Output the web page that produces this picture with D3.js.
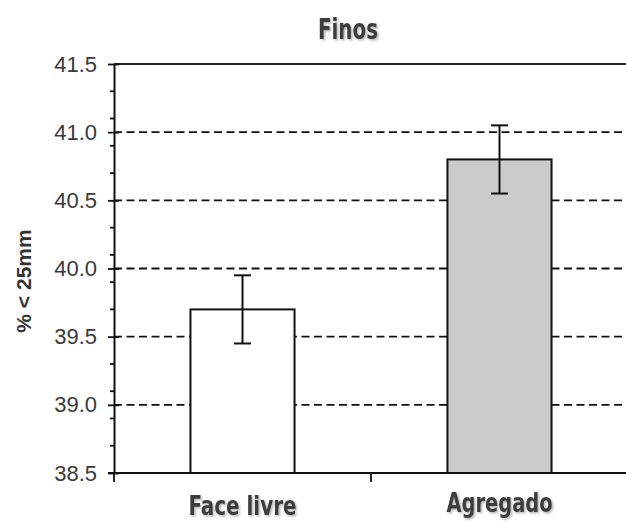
<!DOCTYPE html>
<html>
<head>
<meta charset="utf-8">
<script src="https://cdn.jsdelivr.net/npm/d3@7"></script>
<style>
  html, body { margin: 0; padding: 0; background: #fff; }
  svg { display: block; }
</style>
</head>
<body>
<script>
// Mean fines fraction (% passing 25 mm) by sampling location, with error bars
const categories = ["Face livre", "Agregado"];
const means = [39.7, 40.8];
const errors = [0.25, 0.25];
const fills = ["#ffffff", "#cbcbcb"];
const yTicks = [38.5, 39.0, 39.5, 40.0, 40.5, 41.0, 41.5];
const yMinorTicks = [38.7, 38.9, 39.1, 39.3, 39.7, 39.9, 40.1, 40.3, 40.7, 40.9, 41.1, 41.3];
const gridValues = [39.0, 39.5, 40.0, 40.5, 41.0];
const titleText = "Finos";
const yTitle = "% < 25mm";

const W = 626, H = 523;
const plot = { left: 114, right: 628, top: 64, bottom: 473 };

const svg = d3.select("body").append("svg").attr("width", W).attr("height", H);

const defs = svg.append("defs");
const shadow = defs.append("filter").attr("id", "soft").attr("x", "-10%").attr("y", "-20%")
  .attr("width", "130%").attr("height", "150%");
shadow.append("feDropShadow").attr("dx", 1.5).attr("dy", 1.5).attr("stdDeviation", 1)
  .attr("flood-color", "#000").attr("flood-opacity", 0.3);

const x = d3.scaleBand().domain(categories).range([plot.left, plot.right]).paddingInner(0).paddingOuter(0);
const y = d3.scaleLinear().domain([38.5, 41.5]).range([plot.bottom, plot.top]);
const barW = x.bandwidth() * 0.405;

// dashed gridlines
svg.append("g").selectAll("line").data(gridValues).join("line")
  .attr("x1", plot.left).attr("x2", W + 10)
  .attr("y1", d => y(d)).attr("y2", d => y(d))
  .attr("stroke", "#111").attr("stroke-width", 1.8).attr("stroke-dasharray", "8,4.5");

// top border of the plot area
svg.append("line").attr("x1", plot.left).attr("x2", W + 10)
  .attr("y1", y(41.5)).attr("y2", y(41.5)).attr("stroke", "#222").attr("stroke-width", 1.8);

// bars
svg.append("g").selectAll("rect").data(categories).join("rect")
  .attr("x", d => x(d) + (x.bandwidth() - barW) / 2)
  .attr("width", barW)
  .attr("y", (d, i) => y(means[i]))
  .attr("height", (d, i) => y(38.5) - y(means[i]))
  .attr("fill", (d, i) => fills[i])
  .attr("stroke", "#111").attr("stroke-width", 2);

// error bars
const eb = svg.append("g").attr("stroke", "#111").attr("stroke-width", 2);
categories.forEach((c, i) => {
  const cx = x(c) + x.bandwidth() / 2;
  const hi = y(means[i] + errors[i]), lo = y(means[i] - errors[i]);
  eb.append("line").attr("x1", cx).attr("x2", cx).attr("y1", hi).attr("y2", lo);
  eb.append("line").attr("x1", cx - 8.5).attr("x2", cx + 8.5).attr("y1", hi).attr("y2", hi);
  eb.append("line").attr("x1", cx - 8.5).attr("x2", cx + 8.5).attr("y1", lo).attr("y2", lo);
});

// y axis: major ticks cross the axis, minor ticks outside
const yAxis = svg.append("g").attr("transform", `translate(${plot.left},0)`);
yAxis.call(d3.axisLeft(y).tickValues(yTicks).tickSize(0).tickPadding(17).tickFormat(d3.format(".1f")));
yAxis.select(".domain").attr("stroke", "#111").attr("stroke-width", 2);
yAxis.selectAll(".tick text")
  .attr("font-family", "Arial, 'Liberation Sans', sans-serif")
  .attr("font-size", 22).attr("fill", "#3a3a3a");
yAxis.selectAll(".tick").append("line")
  .attr("x1", -6).attr("x2", 5).attr("stroke", "#111").attr("stroke-width", 1.8);
yAxis.append("g").selectAll("line").data(yMinorTicks).join("line")
  .attr("x1", -4).attr("x2", 0)
  .attr("y1", d => y(d)).attr("y2", d => y(d))
  .attr("stroke", "#111").attr("stroke-width", 1.8);

// x axis
const xAxis = svg.append("g").attr("transform", `translate(0,${plot.bottom})`);
xAxis.append("line").attr("x1", plot.left - 6).attr("x2", W + 10)
  .attr("stroke", "#111").attr("stroke-width", 2);
const boundaries = [plot.left, x(categories[1])];
xAxis.selectAll("line.tk").data(boundaries).join("line").attr("class", "tk")
  .attr("x1", d => d).attr("x2", d => d).attr("y1", 0).attr("y2", 9)
  .attr("stroke", "#111").attr("stroke-width", 1.8);

const condensed = "'Liberation Sans Narrow', 'Arial Narrow', 'DejaVu Sans Condensed', sans-serif";
const labelWidths = [108, 106];
xAxis.selectAll("text").data(categories).join("text")
  .attr("x", d => x(d) + x.bandwidth() / 2)
  .attr("y", (d, i) => i === 0 ? 42 : 39)
  .attr("text-anchor", "middle")
  .attr("font-family", condensed).attr("font-weight", "bold")
  .attr("font-size", 27).attr("fill", "#3c3c3c")
  .attr("textLength", (d, i) => labelWidths[i]).attr("lengthAdjust", "spacingAndGlyphs")
  .attr("filter", "url(#soft)")
  .text(d => d);

// title
svg.append("text").attr("x", 348).attr("y", 39)
  .attr("text-anchor", "middle")
  .attr("font-family", condensed).attr("font-weight", "bold")
  .attr("font-size", 29).attr("fill", "#3c3c3c")
  .attr("textLength", 60).attr("lengthAdjust", "spacingAndGlyphs")
  .attr("filter", "url(#soft)")
  .text(titleText);

// y axis title
svg.append("text")
  .attr("transform", `translate(31,${281}) rotate(-90)`)
  .attr("text-anchor", "middle")
  .attr("font-family", "Arial, 'Liberation Sans', sans-serif").attr("font-weight", "bold")
  .attr("font-size", 21).attr("fill", "#333")
  .text(yTitle);
</script>
</body>
</html>
